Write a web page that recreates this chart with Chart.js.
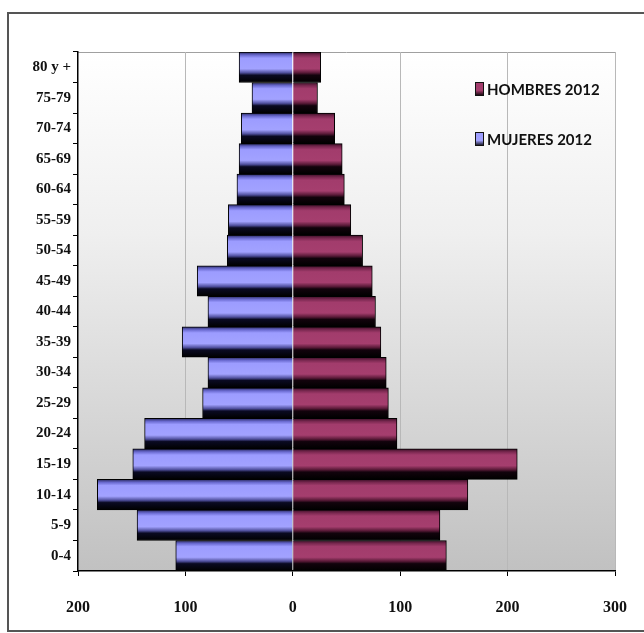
<!DOCTYPE html>
<html>
<head>
<meta charset="utf-8">
<script src="https://cdn.jsdelivr.net/npm/chart.js@4.4.1/dist/chart.umd.min.js"></script>
<style>
  html, body { margin: 0; padding: 0; background: #fff; }
  #wrap { width: 644px; height: 633px; position: relative; }
</style>
</head>
<body>
<div id="wrap"><canvas id="myChart" width="644" height="633"></canvas></div>
<script>
///// PIRAMIDE DE POBLACION /////

// Datas (de abajo hacia arriba)
const ageGroups = ['0-4', '5-9', '10-14', '15-19', '20-24', '25-29', '30-34', '35-39',
    '40-44', '45-49', '50-54', '55-59', '60-64', '65-69', '70-74', '75-79', '80 y +'];
const hombres2012 = [143, 137, 163, 209, 97, 89, 87, 82, 77, 74, 65, 54, 48, 46, 39, 23, 26];
const mujeres2012 = [109, 145, 182, 149, 138, 84, 79, 103, 79, 89, 61, 60, 52, 50, 48, 38, 50];
const xTicks = [-200, -100, 0, 100, 200, 300];
const seriesLabels = ['HOMBRES 2012', 'MUJERES 2012'];

// colores: tubo claro arriba, negro abajo
const menStops = [[0, '#3a0f26'], [0.1, '#7a2850'], [0.2, '#a23c6c'], [0.55, '#a53e6e'], [0.68, '#5a1a38'], [0.76, '#12030c'], [1, '#000']];
const womenStops = [[0, '#2a2a60'], [0.1, '#6a6ad0'], [0.2, '#9c9cff'], [0.55, '#a2a2ff'], [0.68, '#50509e'], [0.76, '#0a0a22'], [1, '#000']];

function barGradient(c, stops, flat) {
    const chart = c.chart;
    const y = chart.scales.y;
    if (!chart.chartArea || !y || c.dataIndex === undefined) return flat;
    const center = y.getPixelForValue(c.dataIndex);
    const half = (y.height / ageGroups.length) / 2;
    const g = chart.ctx.createLinearGradient(0, center - half, 0, center + half);
    stops.forEach(s => g.addColorStop(s[0], s[1]));
    return g;
}

// fondo, marco y leyenda
const decoPlugin = {
    id: 'deco',
    beforeDraw(chart) {
        const ctx = chart.ctx;
        const a = chart.chartArea;
        ctx.save();
        // marco exterior
        ctx.strokeStyle = '#555';
        ctx.lineWidth = 2;
        ctx.beginPath();
        ctx.moveTo(660, 13);
        ctx.lineTo(8, 13);
        ctx.lineTo(8, 631);
        ctx.lineTo(660, 631);
        ctx.stroke();
        // degradado del area de trazado
        const g = ctx.createLinearGradient(0, a.top, 0, a.bottom);
        g.addColorStop(0, '#ffffff');
        g.addColorStop(0.35, '#efefef');
        g.addColorStop(1, '#c1c1c1');
        ctx.fillStyle = g;
        ctx.fillRect(a.left, a.top, a.right - a.left, a.bottom - a.top);
        // borde superior
        ctx.strokeStyle = '#a0a0a0';
        ctx.lineWidth = 1;
        ctx.beginPath();
        ctx.moveTo(a.left, a.top + 0.5);
        ctx.lineTo(a.right, a.top + 0.5);
        ctx.stroke();
        ctx.restore();
    },
    afterDraw(chart) {
        const ctx = chart.ctx;
        ctx.save();
        const items = [
            { text: seriesLabels[0], stops: menStops, y: 89 },
            { text: seriesLabels[1], stops: womenStops, y: 139 }
        ];
        items.forEach(it => {
            const g = ctx.createLinearGradient(0, it.y - 7, 0, it.y + 7);
            g.addColorStop(0, it.stops[2][1]);
            g.addColorStop(0.6, it.stops[3][1]);
            g.addColorStop(1, '#000');
            ctx.fillStyle = g;
            ctx.fillRect(475, it.y - 7, 9, 14);
            ctx.strokeStyle = '#111';
            ctx.lineWidth = 1;
            ctx.strokeRect(475.5, it.y - 6.5, 8, 13);
            ctx.fillStyle = '#111';
            ctx.font = 'bold 15px Lato';
            ctx.textBaseline = 'middle';
            ctx.textAlign = 'left';
            ctx.fillText(it.text, 487, it.y + 1);
        });
        ctx.restore();
    }
};

const myChart = new Chart('myChart', {
    type: 'bar',
    data: {
        labels: ageGroups,
        datasets: [{
            label: seriesLabels[0],
            data: hombres2012,
            backgroundColor: c => barGradient(c, menStops, '#993366'),
            borderColor: '#000',
            borderWidth: 1,
            borderSkipped: 'start',
            barPercentage: 1,
            categoryPercentage: 1
        },
        {
            label: seriesLabels[1],
            data: mujeres2012.map(v => -v),
            backgroundColor: c => barGradient(c, womenStops, '#9999ff'),
            borderColor: '#000',
            borderWidth: 1,
            borderSkipped: 'start',
            barPercentage: 1,
            categoryPercentage: 1
        }]
    },
    options: {
        indexAxis: 'y',
        responsive: false,
        animation: false,
        layout: { autoPadding: false, padding: { top: 52, right: 29, left: 0, bottom: 0 } },
        plugins: {
            legend: { display: false },
            tooltip: { enabled: false }
        },
        scales: {
            x: {
                stacked: true,
                min: -200,
                max: 300,
                afterBuildTicks: s => { s.ticks = xTicks.map(v => ({ value: v })); },
                afterFit: s => { s.height = 62; s.paddingLeft = 0; s.paddingRight = 29; },
                border: { color: '#000', width: 1.5 },
                grid: {
                    color: c => (c.tick && (c.tick.value === 0 || c.tick.value === -200)) ? 'rgba(0,0,0,0)' : '#b8b8b8',
                    tickColor: '#000',
                    tickLength: 5
                },
                ticks: {
                    padding: 22,
                    color: '#111',
                    font: { family: 'Liberation Serif', weight: 'bold', size: 16 },
                    callback: v => Math.abs(v)
                }
            },
            y: {
                stacked: true,
                reverse: true,
                afterFit: s => { s.width = 78; },
                border: { color: '#000', width: 1.5 },
                grid: {
                    drawOnChartArea: false,
                    tickColor: '#000',
                    tickLength: 5
                },
                ticks: {
                    padding: 2,
                    color: '#111',
                    font: { family: 'Liberation Serif', weight: 'bold', size: 15 }
                }
            }
        }
    },
    plugins: [decoPlugin]
});
</script>
</body>
</html>
